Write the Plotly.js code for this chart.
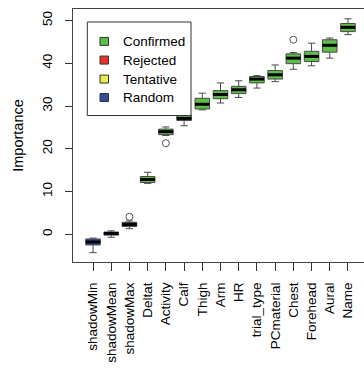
<!DOCTYPE html>
<html>
<head>
<meta charset="utf-8">
<script src="https://cdn.plot.ly/plotly-3.0.1.min.js"></script>
<style>
html,body{margin:0;padding:0;background:#fff;overflow:hidden;width:364px;height:372px;}
#chart{width:372px;height:372px;}
</style>
</head>
<body>
<div id="chart"></div>
<script>
// ---- data ----
const categories = ['shadowMin','shadowMean','shadowMax','Deltat','Activity','Calf','Thigh','Arm','HR','trial_type','PCmaterial','Chest','Forehead','Aural','Name'];
const decision   = ['Random','Random','Random','Confirmed','Confirmed','Confirmed','Confirmed','Confirmed','Confirmed','Confirmed','Confirmed','Confirmed','Confirmed','Confirmed','Confirmed'];
const lowerWhisker = [-4.3,-0.7, 1.3,11.9,23.1,25.4,29.1,30.7,32.0,34.2,35.7,38.6,39.4,41.2,46.7];
const q1Values     = [-2.5,-0.2, 1.8,12.1,23.3,26.6,29.3,31.7,32.9,35.4,36.3,39.9,40.4,42.6,47.4];
const medianValues = [-1.8, 0.2, 2.3,12.8,24.0,27.1,30.4,32.7,33.8,36.3,37.3,41.2,41.6,44.2,48.4];
const q3Values     = [-1.1, 0.5, 2.8,13.5,24.6,27.9,31.8,33.6,34.6,36.9,38.3,42.2,42.8,45.5,49.3];
const upperWhisker = [-0.9, 0.8, 3.1,14.5,25.1,28.6,33.0,35.4,35.9,37.1,39.6,42.5,44.7,45.9,50.4];
const outlierCats   = ['shadowMax','Activity','Chest'];
const outlierValues = [4.1, 21.3, 45.5];
const legendLabels = ['Confirmed','Rejected','Tentative','Random'];
const legendColors = ['#5cbf48','#e8352b','#ede84c','#2f4e9e'];
const yTicks = [0,10,20,30,40,50];

// ---- build ----
const FONT = 'Liberation Sans, Arial, Helvetica, sans-serif';
const colorOf = d => legendColors[legendLabels.indexOf(d)];
const pos = categories.map((c,i)=>i+1);
const BOXW = 0.8;

const traces = [];
categories.forEach((c,i)=>{
  traces.push({
    type:'box', x:[pos[i]], q1:[q1Values[i]], median:[medianValues[i]], q3:[q3Values[i]],
    lowerfence:[lowerWhisker[i]], upperfence:[upperWhisker[i]],
    width:BOXW, whiskerwidth:0.5, boxpoints:false,
    fillcolor:colorOf(decision[i]), line:{color:'#4a4a4a',width:1},
    showlegend:false, hoverinfo:'skip'
  });
});
// thick medians
const mx=[], my=[];
categories.forEach((c,i)=>{ mx.push(pos[i]-BOXW/2, pos[i]+BOXW/2, null); my.push(medianValues[i], medianValues[i], null); });
traces.push({type:'scatter', mode:'lines', x:mx, y:my, line:{color:'#000',width:3}, showlegend:false, hoverinfo:'skip'});
// outliers
traces.push({type:'scatter', mode:'markers', x:outlierCats.map(c=>categories.indexOf(c)+1), y:outlierValues,
  marker:{symbol:'circle-open', size:7, color:'#555', line:{width:1}}, showlegend:false, hoverinfo:'skip'});

// legend drawn by hand (R style)
const L = 73, R = 368, T = 9.3, B = 262;
const px = v => (v-L)/(R-L);
const py = v => (B-v)/(B-T);
const shapes = [{type:'rect', xref:'paper', yref:'paper', x0:px(87.3), x1:px(191), y0:py(115.7), y1:py(22.3),
  fillcolor:'#fff', line:{color:'#333',width:1}, layer:'above'}];
const annotations = [];
const rowY = [41.7,60.3,79.3,97.7];
legendLabels.forEach((lab,k)=>{
  shapes.push({type:'rect', xref:'paper', yref:'paper', x0:px(100), x1:px(108.5), y0:py(rowY[k]+4), y1:py(rowY[k]-4),
    fillcolor:legendColors[k], line:{color:'#333',width:1}, layer:'above'});
  annotations.push({xref:'paper', yref:'paper', x:px(121), y:py(rowY[k]), xanchor:'left', yanchor:'middle',
    text:lab, showarrow:false, font:{family:FONT,size:13.5,color:'#000'}});
});

const layout = {
  width:372, height:372,
  margin:{l:L, r:372-R, t:T, b:372-B, pad:0},
  paper_bgcolor:'#fff', plot_bgcolor:'#fff',
  showlegend:false,
  font:{family:FONT, size:13.5, color:'#000'},
  xaxis:{range:[-0.1,16.1], tickvals:pos, ticktext:categories, tickangle:-90,
    ticks:'outside', ticklen:8, tickcolor:'#333', showgrid:false, zeroline:false,
    showline:true, mirror:true, linecolor:'#444', linewidth:1, ticklabelstandoff:6,
    tickfont:{family:FONT,size:13.5,color:'#000'}},
  yaxis:{range:[-6.49,52.69], tickvals:yTicks, tickangle:-90,
    ticks:'outside', ticklen:7, tickcolor:'#333', showgrid:false, zeroline:false,
    showline:true, mirror:true, linecolor:'#444', linewidth:1, ticklabelstandoff:8,
    tickfont:{family:FONT,size:13.5,color:'#000'},
    title:{text:'Importance', font:{family:FONT,size:14.5,color:'#000'}, standoff:12}},
  shapes:shapes, annotations:annotations
};
Plotly.newPlot('chart', traces, layout, {staticPlot:true, displayModeBar:false});
</script>
</body>
</html>
